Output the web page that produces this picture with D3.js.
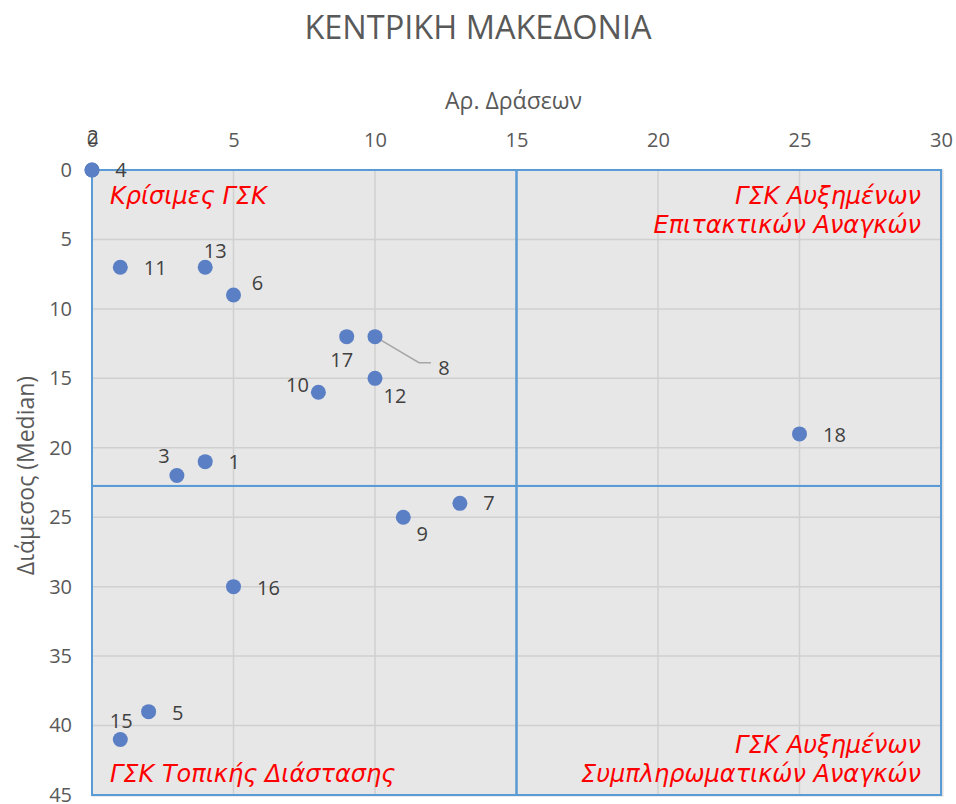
<!DOCTYPE html>
<html>
<head>
<meta charset="utf-8">
<title>ΚΕΝΤΡΙΚΗ ΜΑΚΕΔΟΝΙΑ</title>
<style>
  body { margin: 0; background: #fff; }
  text { font-family: "Open Sans", "DejaVu Sans", sans-serif; }
</style>
</head>
<body>
<script src="https://cdn.jsdelivr.net/npm/d3@7"></script>
<script>
// data
var ids      = [1, 2, 3, 4, 5, 6, 7, 8, 9, 10, 11, 12, 13, 15, 16, 17, 18];
var actions  = [4, 0, 3, 0, 2, 5, 13, 10, 11, 8, 1, 10, 4, 1, 5, 9, 25];
var medians  = [21, 0, 22, 0, 39, 9, 24, 12, 25, 16, 7, 15, 7, 41, 30, 12, 19];
// label offsets (px) from each point, same order as ids
var labelPos = [
  [29, 0], [1, -33], [-13, -20], [29, 0], [29, 1], [24, -12], [29, 0], [69, 31],
  [19, 17], [-21, -7], [35, 1], [20, 18], [10, -16], [1, -18], [35, 1], [-5, 23], [35, 1]
];
var xTicks = [0, 5, 10, 15, 20, 25, 30];
var yTicks = [0, 5, 10, 15, 20, 25, 30, 35, 40, 45];
var xSplit = 15, ySplit = 22.75;
var quadrantLabels = [
  {lines: ["Κρίσιμες ΓΣΚ"], corner: "tl"},
  {lines: ["ΓΣΚ Αυξημένων", "Επιτακτικών Αναγκών"], corner: "tr"},
  {lines: ["ΓΣΚ Τοπικής Διάστασης"], corner: "bl"},
  {lines: ["ΓΣΚ Αυξημένων", "Συμπληρωματικών Αναγκών"], corner: "br"}
];

var W = 956, H = 804;
var margin = {top: 170, right: 15, bottom: 9, left: 92};
var width = W - margin.left - margin.right,
    height = H - margin.top - margin.bottom;

var x = d3.scaleLinear().domain([0, 30]).range([0, width]);
var y = d3.scaleLinear().domain([0, 45]).range([0, height]);

var svg = d3.select("body").append("svg")
    .attr("width", W).attr("height", H);

svg.append("text")
    .attr("x", W / 2).attr("y", 39)
    .attr("text-anchor", "middle")
    .style("font-size", "32.5px").style("fill", "#595959")
    .text("ΚΕΝΤΡΙΚΗ ΜΑΚΕΔΟΝΙΑ");

var g = svg.append("g")
    .attr("transform", "translate(" + margin.left + "," + margin.top + ")");

// plot background with faint outer edge
g.append("rect")
    .attr("width", width + 2).attr("height", height + 1)
    .style("fill", "#e7e7e7").style("stroke", "#d9d9d9").style("stroke-width", 1);

// grid
g.selectAll(".vgrid").data(xTicks).enter().append("line")
    .attr("x1", function(d) { return x(d); }).attr("x2", function(d) { return x(d); })
    .attr("y1", 0).attr("y2", height)
    .style("stroke", "#d0d0d0").style("stroke-width", 1.5);
g.selectAll(".hgrid").data(yTicks).enter().append("line")
    .attr("y1", function(d) { return y(d); }).attr("y2", function(d) { return y(d); })
    .attr("x1", 0).attr("x2", width)
    .style("stroke", "#d0d0d0").style("stroke-width", 1.5);

// quadrant boxes
var quads = [
  [0, xSplit, 0, ySplit], [xSplit, 30, 0, ySplit],
  [0, xSplit, ySplit, 45], [xSplit, 30, ySplit, 45]
];
g.selectAll(".quad").data(quads).enter().append("rect")
    .attr("x", function(d) { return x(d[0]); })
    .attr("y", function(d) { return y(d[2]); })
    .attr("width", function(d) { return x(d[1]) - x(d[0]); })
    .attr("height", function(d) { return y(d[3]) - y(d[2]); })
    .style("fill", "none").style("stroke", "#5b9bd5").style("stroke-width", 2);

// quadrant labels
quadrantLabels.forEach(function(q) {
  var right = q.corner[1] === "r", bottom = q.corner[0] === "b";
  var tx = right ? x(30) - 20 : x(0) + 18;
  var n = q.lines.length;
  q.lines.forEach(function(line, i) {
    var ty = bottom ? y(45) - 13 - (n - 1 - i) * 29 : y(0) + 34 + i * 29;
    g.append("text")
        .attr("x", tx).attr("y", ty)
        .attr("text-anchor", right ? "end" : "start")
        .style("font-family", "'DejaVu Sans', sans-serif")
        .style("font-size", "24px").style("font-style", "italic")
        .style("fill", "#ff0000")
        .text(line);
  });
});

// axes
var xAxis = g.append("g").call(d3.axisTop(x).tickValues(xTicks).tickSize(0).tickPadding(23));
xAxis.select(".domain").remove();
xAxis.selectAll("text").style("font-size", "20px").style("fill", "#595959")
    .style("font-family", "'Open Sans', sans-serif");

var yAxis = g.append("g").call(d3.axisLeft(y).tickValues(yTicks).tickSize(0).tickPadding(20));
yAxis.select(".domain").remove();
yAxis.selectAll("text").style("font-size", "20px").style("fill", "#595959")
    .style("font-family", "'Open Sans', sans-serif");

svg.append("text")
    .attr("x", margin.left + x(15) - 3).attr("y", 109)
    .attr("text-anchor", "middle")
    .style("font-size", "23px").style("fill", "#595959")
    .text("Αρ. Δράσεων");

svg.append("text")
    .attr("transform", "translate(34," + (margin.top + height / 2 - 7) + ") rotate(-90)")
    .attr("text-anchor", "middle")
    .style("font-size", "23px").style("fill", "#595959")
    .text("Διάμεσος (Median)");

// points
var pts = ids.map(function(id, i) {
  return {id: id, a: actions[i], m: medians[i], dx: labelPos[i][0], dy: labelPos[i][1]};
});

// leader line for label 8
pts.filter(function(d) { return d.id === 8; }).forEach(function(d) {
  var px = x(d.a), py = y(d.m);
  g.append("polyline")
      .attr("points", [[px, py], [px + 44, py + 26], [px + 56, py + 26]].map(function(p) { return p.join(","); }).join(" "))
      .style("fill", "none").style("stroke", "#a6a6a6").style("stroke-width", 1.5);
});

g.selectAll(".pt").data(pts).enter().append("circle")
    .attr("cx", function(d) { return x(d.a); })
    .attr("cy", function(d) { return y(d.m); })
    .attr("r", 7.5)
    .style("fill", "#5b7fc4");

g.selectAll(".lbl").data(pts).enter().append("text")
    .attr("x", function(d) { return x(d.a) + d.dx; })
    .attr("y", function(d) { return y(d.m) + d.dy; })
    .attr("text-anchor", "middle")
    .attr("dy", "0.35em")
    .style("font-size", "20px").style("fill", "#404040")
    .text(function(d) { return d.id; });
</script>
</body>
</html>
